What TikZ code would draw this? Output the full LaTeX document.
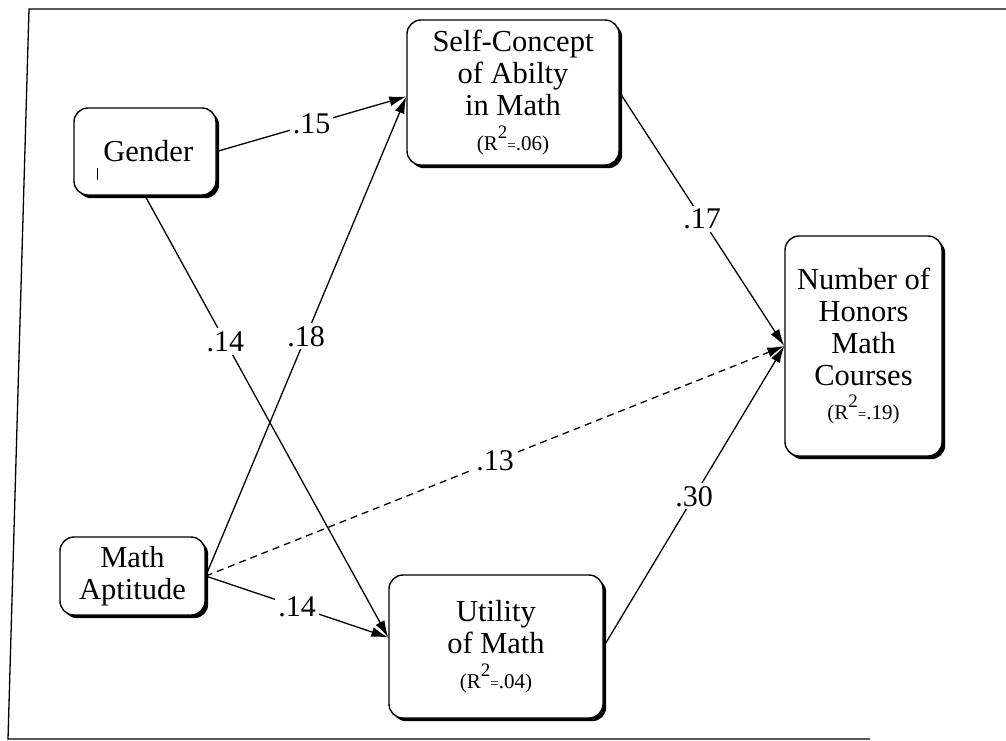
\documentclass[tikz,border=0pt]{standalone}
\usepackage{fontspec}
\setmainfont{Liberation Serif}
\usetikzlibrary{arrows.meta,shadows,calc}
% R-squared annotation set in a smaller size
\newcommand{\rsq}[1]{{\fontsize{21}{23}\selectfont(R\raisebox{0.55em}{\fontsize{19}{19}\selectfont 2}{\fontsize{15}{15}\selectfont=}#1)}}
\begin{document}
\begin{tikzpicture}[x=1pt,y=-1pt,
  var/.style={draw=black, line width=1.4pt, rounded corners=14pt, fill=white,
    align=center, inner sep=0pt, font=\fontsize{30.5}{32}\selectfont,
    drop shadow={shadow xshift=3.2pt,shadow yshift=-3.2pt,fill=black,opacity=1}},
  link/.style={line width=1.3pt, -{Latex[length=17pt,width=10pt]}},
  coef/.style={fill=white, inner sep=3pt, font=\fontsize{30}{30}\selectfont},
]
\useasboundingbox (0,0) rectangle (1006,740);

% outer frame
\draw[line width=1.3pt] (1006,9) -- (29,9) -- (8,739) -- (870,739);

% variables
\node[var, minimum width=142pt, minimum height=87pt] (gender) at (145,151.5)
  {\smash{\raisebox{-18pt}{\rule{1.6pt}{12pt}}}\hspace{5pt}Gender};
\node[var, minimum width=212pt, minimum height=145pt] (sc) at (513,92.5)
  {Self-Concept\\of Abilty\\in Math\\[3pt]\rsq{.06}};
\node[var, minimum width=157pt, minimum height=220pt] (num) at (863.5,346)
  {Number of\\Honors\\Math\\Courses\\[2pt]\rsq{.19}};
\node[var, minimum width=145pt, minimum height=78pt] (ma) at (132.5,576)
  {Math\\Aptitude};
\node[var, minimum width=214pt, minimum height=143pt] (ut) at (496,646.5)
  {Utility\\of Math\\[3pt]\rsq{.04}};

% paths with coefficients
\coordinate (scin) at ($(sc.west)+(0,4)$);
\coordinate (utin) at ($(ut.west)+(0,-9)$);
\draw[link] (gender.east) -- node[coef]{.15} (scin);
\draw[link] (gender.south) -- node[coef,pos=0.33]{.14} (utin);
\draw[link] (ma.east) -- node[coef]{.18} (scin);
\draw[link] (ma.east) -- node[coef]{.14} (utin);
\draw[link, dash pattern=on 7pt off 5pt] (ma.east) -- node[coef]{.13} (num.west);
\draw[link] (sc.east) -- node[coef]{.17} (num.west);
\draw[link] (ut.east) -- node[coef]{.30} (num.west);
\end{tikzpicture}
\end{document}
